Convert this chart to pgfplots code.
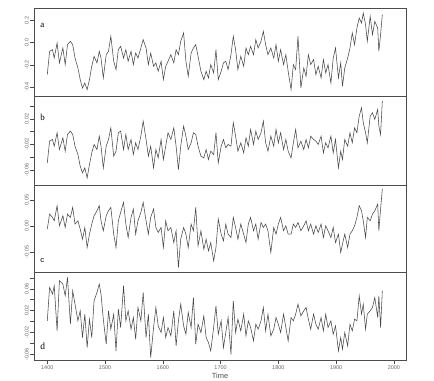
\documentclass[border=0pt]{standalone}
\usepackage{fontspec}
\setmainfont{Liberation Serif}
\setsansfont{Liberation Sans}
\usepackage{pgfplots}
\usepackage{pgfplotstable}
\pgfplotsset{compat=1.18}
\pgfplotstableread{
year a b c d
1400 -0.288 -0.0489 -0.0062 0.0012
1404 -0.079 -0.0149 0.0229 0.0624
1409 -0.064 -0.0123 0.0164 0.0502
1412 -0.139 -0.0228 0.0099 0.0655
1417 -0.004 -0.0018 0.0390 -0.0172
1421 -0.183 -0.0280 0.0003 0.0746
1427 -0.049 -0.0097 0.0196 0.0685
1431 -0.198 -0.0306 -0.0030 0.0471
1435 -0.019 -0.0044 0.0229 0.0808
1440 0.011 0.0008 0.0164 -0.0049
1444 -0.019 -0.0044 0.0358 0.0563
1448 -0.139 -0.0228 0.0035 0.0318
1453 -0.228 -0.0358 0.0099 0.0012
1457 -0.333 -0.0541 -0.0062 0.0196
1461 -0.408 -0.0646 -0.0256 -0.0294
1465 -0.363 -0.0567 -0.0030 0.0134
1469 -0.423 -0.0724 -0.0417 -0.0478
1473 -0.333 -0.0515 -0.0159 0.0043
1477 -0.213 -0.0332 0.0035 -0.0294
1481 -0.124 -0.0201 0.0196 0.0379
1486 -0.183 -0.0280 0.0293 0.0532
1490 -0.079 -0.0071 0.0390 0.0685
1493 -0.139 -0.0228 0.0099 0.0502
1497 -0.318 -0.0567 -0.0094 0.0043
1502 -0.109 -0.0228 0.0196 -0.0416
1506 -0.079 -0.0123 0.0293 0.0196
1510 0.056 0.0060 0.0358 -0.0141
1515 -0.168 -0.0384 -0.0159 0.0134
1519 -0.243 -0.0306 -0.0417 -0.0539
1523 -0.064 -0.0018 0.0099 0.0226
1527 -0.034 0.0008 0.0261 -0.0110
1532 -0.139 -0.0280 0.0455 0.0655
1536 -0.064 -0.0044 0.0035 0.0012
1540 -0.168 -0.0280 -0.0224 0.0196
1545 -0.079 -0.0123 0.0164 -0.0141
1549 -0.198 -0.0358 0.0326 0.0073
1553 -0.094 -0.0175 -0.0159 -0.0325
1557 -0.139 -0.0280 0.0099 0.0257
1562 -0.049 -0.0071 0.0261 0.0012
1566 0.026 0.0165 0.0455 0.0532
1571 -0.049 -0.0123 0.0099 -0.0294
1575 -0.198 -0.0384 -0.0159 0.0134
1579 -0.094 -0.0228 0.0164 -0.0661
1584 -0.213 -0.0567 0.0326 -0.0110
1588 -0.183 -0.0280 -0.0030 0.0257
1592 -0.258 -0.0411 -0.0127 -0.0080
1597 -0.168 -0.0123 -0.0030 -0.0202
1601 -0.333 -0.0437 -0.0417 0.0073
1605 -0.213 -0.0228 0.0099 -0.0294
1609 -0.168 -0.0018 -0.0094 -0.0110
1614 -0.109 -0.0123 -0.0030 -0.0263
1619 -0.183 0.0060 -0.0321 0.0196
1623 -0.064 -0.0228 -0.0094 -0.0447
1627 -0.109 -0.0594 -0.0805 0.0012
1631 0.011 -0.0228 -0.0256 0.0318
1636 0.086 0.0086 -0.0030 -0.0080
1640 -0.168 -0.0071 -0.0159 -0.0233
1644 -0.303 -0.0280 -0.0417 0.0165
1649 -0.094 -0.0175 0.0035 -0.0110
1653 -0.049 -0.0018 -0.0094 0.0440
1657 -0.019 -0.0044 0.0358 -0.0416
1661 -0.124 -0.0228 -0.0385 -0.0049
1666 -0.258 -0.0384 -0.0094 -0.0202
1671 -0.333 -0.0411 -0.0450 0.0104
1675 -0.258 -0.0280 -0.0256 -0.0294
1679 -0.318 -0.0437 -0.0482 -0.0386
1683 -0.198 -0.0306 -0.0321 -0.0539
1688 -0.273 -0.0358 -0.0676 -0.0110
1692 -0.064 -0.0018 -0.0417 0.0287
1696 -0.333 -0.0489 0.0132 -0.0233
1701 -0.258 -0.0228 -0.0159 0.0012
1705 -0.183 -0.0123 -0.0288 -0.0478
1709 -0.168 -0.0254 0.0035 -0.0202
1713 -0.243 -0.0201 -0.0159 0.0073
1718 -0.109 -0.0228 -0.0224 -0.0600
1722 0.056 0.0139 0.0164 0.0379
1726 -0.064 -0.0071 -0.0030 -0.0202
1730 -0.243 -0.0306 -0.0256 0.0043
1735 -0.124 -0.0175 0.0035 -0.0172
1740 -0.213 -0.0332 -0.0159 0.0134
1744 -0.049 -0.0097 -0.0321 -0.0263
1748 -0.109 -0.0228 0.0035 0.0012
1752 -0.034 0.0034 0.0164 -0.0110
1757 -0.109 -0.0201 -0.0094 -0.0355
1761 0.026 0.0008 0.0035 -0.0049
1765 -0.049 -0.0123 -0.0256 -0.0141
1770 0.011 -0.0018 0.0067 0.0012
1774 0.101 0.0165 -0.0030 0.0257
1778 -0.019 -0.0175 0.0035 -0.0172
1782 -0.109 -0.0306 -0.0094 0.0134
1787 -0.049 -0.0071 -0.0514 -0.0263
1792 -0.139 -0.0228 -0.0030 -0.0141
1796 -0.019 0.0034 -0.0159 0.0073
1800 -0.168 -0.0175 0.0035 -0.0049
1804 -0.064 -0.0018 0.0164 -0.0202
1809 -0.198 -0.0280 -0.0094 0.0134
1813 -0.109 -0.0123 0.0003 -0.0110
1817 -0.258 -0.0306 -0.0159 -0.0355
1822 -0.423 -0.0411 -0.0159 0.0073
1826 -0.198 -0.0175 0.0035 0.0012
1830 -0.243 0.0034 -0.0030 0.0134
1834 0.056 -0.0254 0.0067 0.0318
1839 -0.408 -0.0149 -0.0094 0.0104
1844 -0.228 -0.0280 0.0003 0.0196
1848 -0.303 -0.0123 0.0099 0.0257
1852 -0.109 -0.0254 -0.0094 0.0043
1856 -0.198 -0.0071 0.0035 -0.0141
1861 -0.153 -0.0123 -0.0159 0.0134
1865 -0.288 -0.0149 0.0003 -0.0049
1869 -0.213 -0.0201 -0.0127 -0.0141
1874 -0.318 -0.0071 0.0035 0.0073
1878 -0.153 -0.0332 -0.0224 -0.0172
1882 -0.273 -0.0175 0.0003 0.0134
1886 -0.198 -0.0254 -0.0094 -0.0110
1891 -0.363 -0.0071 -0.0224 0.0012
1895 -0.139 -0.0332 -0.0030 -0.0233
1899 -0.049 -0.0123 -0.0321 -0.0080
1904 -0.318 -0.0567 -0.0159 -0.0539
1908 -0.183 -0.0306 -0.0514 -0.0294
1911 -0.393 -0.0437 -0.0353 -0.0508
1915 -0.228 -0.0123 -0.0159 -0.0202
1920 -0.139 -0.0228 -0.0417 -0.0447
1924 -0.049 -0.0018 -0.0159 -0.0049
1928 0.086 -0.0175 -0.0094 -0.0172
1932 -0.019 0.0060 0.0003 0.0043
1936 0.131 -0.0018 0.0164 0.0012
1940 0.220 0.0243 0.0390 0.0471
1944 0.175 0.0374 0.0293 0.0134
1947 0.265 0.0139 0.0099 0.0318
1951 0.161 -0.0018 -0.0224 -0.0141
1954 0.011 -0.0175 0.0164 0.0134
1959 0.235 0.0243 0.0099 0.0196
1963 0.071 0.0296 0.0229 0.0257
1967 0.190 0.0191 0.0293 0.0440
1972 0.131 0.0348 0.0422 0.0073
1974 -0.079 0.0086 -0.0094 0.0471
1977 0.071 -0.0044 0.0326 -0.0110
1980 0.250 0.0479 0.0713 0.0563
}\data
\newcommand{\m}{-}
\pgfplotsset{
  panel/.style={
    scale only axis, width=372bp,
    xmin=1377, xmax=2021,
    anchor=north west,
    scaled y ticks=false, scaled x ticks=false,
    axis line style={black!70, line width=0.5pt},
    tick style={black!70, line width=0.4pt},
    tick align=outside, major tick length=3.5bp,
    ytick pos=left, xtick pos=bottom,
    xtick=\empty,
    yticklabel style={rotate=90, anchor=south, font=\sffamily\fontsize{5.5}{6}\selectfont, text=black!60, inner sep=1.5bp},
    xticklabel style={font=\sffamily\fontsize{5.5}{6}\selectfont, text=black!60, inner sep=2bp},
  },
  ser/.style={black!72, line width=0.55pt, mark=none},
}
\begin{document}
\begin{tikzpicture}
\path[use as bounding box] (0,0) rectangle (434bp,-381bp);
\begin{axis}[panel, at={(34bp,-8bp)}, height=88bp, ymin=-0.48, ymax=0.31,
  ytick={-0.4,-0.2,0,0.2}, yticklabels={{\m0.4},{\m0.2},{0.0},{0.2}}]
\addplot[ser] table[x=year,y=a]{\data};
\node[anchor=west, font=\fontsize{9}{10}\selectfont] at (rel axis cs:0.008,0.8) {a};
\end{axis}
\begin{axis}[panel, at={(34bp,-96bp)}, height=89bp, ymin=-0.0835, ymax=0.0557,
  ytick={-0.06,-0.04,-0.02,0,0.02,0.04}, yticklabels={{\m0.06},{},{\m0.02},{},{0.02},{}}]
\addplot[ser] table[x=year,y=b]{\data};
\node[anchor=west, font=\fontsize{9}{10}\selectfont] at (rel axis cs:0.008,0.76) {b};
\end{axis}
\begin{axis}[panel, at={(34bp,-185bp)}, height=87bp, ymin=-0.089, ymax=0.079,
  ytick={-0.05,0,0.05}, yticklabels={{\m0.05},{0.00},{0.05}}]
\addplot[ser] table[x=year,y=c]{\data};
\node[anchor=west, font=\sffamily\fontsize{7.5}{8}\selectfont] at (rel axis cs:0.008,0.13) {c};
\end{axis}
\begin{axis}[panel, at={(34bp,-272bp)}, height=88bp, ymin=-0.0705, ymax=0.0906,
  ytick={-0.06,-0.04,-0.02,0,0.02,0.04,0.06,0.08}, yticklabels={{\m0.06},{},{\m0.02},{},{0.02},{},{0.06},{}},
  xtick={1400,1500,1600,1700,1800,1900,2000},
  xticklabels={1400,1500,1600,1700,1800,1900,2000},
  xlabel={Time}, xlabel style={font=\sffamily\fontsize{7.5}{8}\selectfont, text=black!70, inner sep=1bp}]
\addplot[ser] table[x=year,y=d]{\data};
\node[anchor=west, font=\fontsize{9.5}{10}\selectfont] at (rel axis cs:0.008,0.16) {d};
\end{axis}
\end{tikzpicture}
\end{document}
